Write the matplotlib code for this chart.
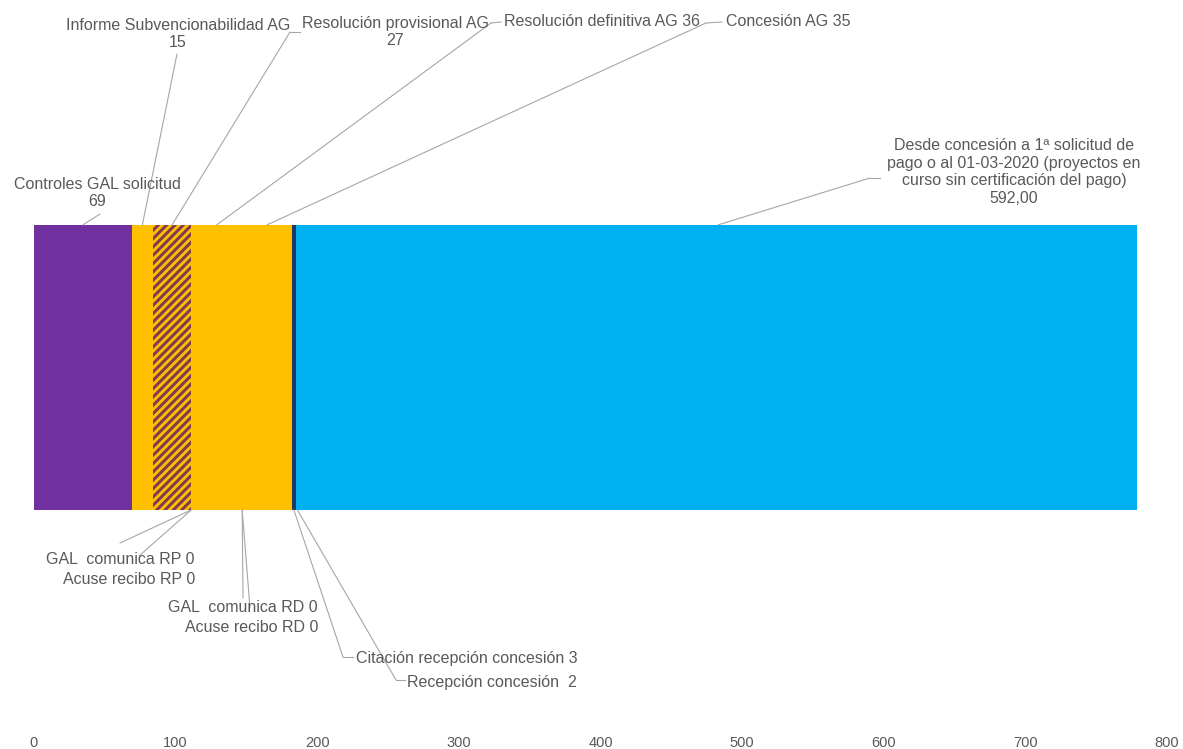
import matplotlib
matplotlib.use('Agg')
import matplotlib.pyplot as plt
from matplotlib.lines import Line2D
import numpy as np

plt.rcParams['font.family'] = ['Liberation Sans', 'DejaVu Sans']
plt.rcParams['hatch.linewidth'] = 2.2

# datos: fases del expediente y dias de cada una
fases = ['Controles GAL solicitud', 'Informe Subvencionabilidad AG',
         'Resolución provisional AG', 'GAL  comunica RP', 'Acuse recibo RP',
         'Resolución definitiva AG', 'GAL  comunica RD', 'Acuse recibo RD',
         'Concesión AG', 'Citación recepción concesión', 'Recepción concesión ',
         'Desde concesión a 1ª solicitud de\npago o al 01-03-2020 (proyectos en\n'
         'curso sin certificación del pago)']
dias = [69, 15, 27, 0, 0, 36, 0, 0, 35, 3, 2, 592]
separador = ['\n', '\n', '\n', ' ', ' ', ' ', ' ', ' ', ' ', ' ', ' ', '\n']
formato = ['{}'] * 11 + ['{},00']
ticks = [0, 100, 200, 300, 400, 500, 600, 700, 800]

colores = ['#7030A0', '#FFC000', '#FFC000', '#FFC000', '#FFC000', '#FFC000',
           '#FFC000', '#FFC000', '#FFC000', '#203864', '#00B0F0', '#00B0F0']
rayado = [None, None, '////', None, None, None, None, None, None, None, None, None]

# posiciones de las etiquetas (pixeles de la imagen, origen arriba-izquierda)
# lado, punto de codo, fin del gancho (o None), posicion texto, ha
etiquetas = [
    ('top', (100, 214), None, (97, 193), 'center'),
    ('top', (177, 54), None, (178, 34), 'center'),
    ('top', (290, 32), (300, 32), (302, 32), 'left'),
    ('bottom', (120, 543), None, (195, 560), 'right'),
    ('bottom', (139, 556), None, (195, 579), 'right'),
    ('top', (491, 23), (501, 22), (504, 22), 'left'),
    ('bottom', (243, 598), None, (318, 608), 'right'),
    ('bottom', (250, 608), None, (318, 627), 'right'),
    ('top', (706, 23), (722, 22), (726, 22), 'left'),
    ('bottom', (343, 657), (353, 657), (356, 659), 'left'),
    ('bottom', (396, 680), (405, 680), (407, 683), 'left'),
    ('top', (870, 178), (880, 178), (1014, 172), 'center'),
]

W, H = 1183, 749
gris_txt = '#595959'
gris_lin = '#A6A6A6'

fig = plt.figure(figsize=(W / 100, H / 100), dpi=100)
ax = fig.add_axes([34 / W, (H - 728) / H, (1167 - 34) / W, 728 / H])

izq = np.concatenate([[0], np.cumsum(dias)[:-1]])
for i in range(len(dias)):
    if rayado[i]:
        ax.barh(0, dias[i], left=izq[i], height=1, facecolor=colores[i],
                edgecolor='#833C4E', hatch=rayado[i], linewidth=0)
    else:
        ax.barh(0, dias[i], left=izq[i], height=1, color=colores[i], linewidth=0)

ax.set_xlim(0, 800)
ax.set_ylim(-1.265, 1.289)
ax.set_xticks(ticks)
ax.set_yticks([])
ax.tick_params(axis='x', length=0, pad=6, labelsize=10.5, labelcolor=gris_txt)
for s in ax.spines.values():
    s.set_visible(False)


def ff(p):
    return (p[0] / W, 1 - p[1] / H)


for i, (lado, codo, gancho, pos, ha) in enumerate(etiquetas):
    xv = izq[i] + dias[i] / 2.0
    yv = 0.5 if lado == 'top' else -0.5
    ax.annotate('', xy=(xv, yv), xycoords='data', xytext=ff(codo),
                textcoords='figure fraction',
                arrowprops=dict(arrowstyle='-', color=gris_lin, lw=0.8,
                                shrinkA=0, shrinkB=0))
    if gancho:
        a, b = ff(codo), ff(gancho)
        fig.add_artist(Line2D([a[0], b[0]], [a[1], b[1]], color=gris_lin,
                              lw=0.8, transform=fig.transFigure))
    txt = fases[i] + separador[i] + formato[i].format(dias[i])
    fig.text(*ff(pos), txt, ha=ha, va='center',
             multialignment='right' if ha == 'right' else 'center',
             fontsize=11.5, color=gris_txt, linespacing=1.2)

plt.savefig('out.png', dpi=100)
